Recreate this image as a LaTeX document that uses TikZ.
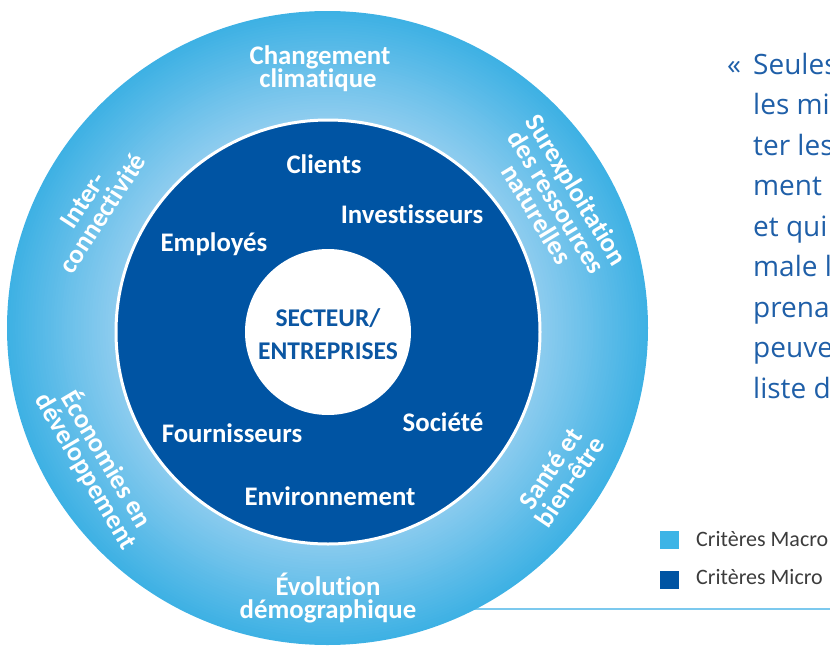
\documentclass[tikz,border=0pt]{standalone}
\usepackage{fontspec}
\setmainfont{Carlito}[Ligatures=NoCommon]
\newfontfamily\quotefont{Open Sans}
\definecolor{macro}{HTML}{3EB1E4}
\definecolor{macrolight}{HTML}{8FCDEF}
\definecolor{micro}{HTML}{0054A3}
\definecolor{centertext}{HTML}{0B56A2}
\definecolor{quoteblue}{HTML}{1F5FA8}
\definecolor{legendgray}{HTML}{3C3C3C}
\definecolor{legendmacro}{HTML}{3DB4E6}
\definecolor{lineblue}{HTML}{7CC9EE}
\tikzset{
  lbl/.style={text=white, font=\bfseries\fontsize{26.8}{23.5}\selectfont, align=center, inner sep=0pt},
  ctr/.style={text=centertext, font=\bfseries\fontsize{25.5}{30}\selectfont, inner sep=0pt, anchor=base},
  quote/.style={text=quoteblue, font=\quotefont\fontsize{28}{40}\selectfont, inner sep=0pt, anchor=base west},
  legtxt/.style={text=legendgray, font=\fontsize{22}{26}\selectfont, inner sep=0pt, anchor=base west},
  legbox/.style={minimum width=19pt, minimum height=18pt, inner sep=0pt, draw=none}
}
\begin{document}
\begin{tikzpicture}[x=1pt,y=-1pt]
\useasboundingbox (0,0) rectangle (830,648);
\clip (0,0) rectangle (830,648);
% baseline rule behind the circle
\coordinate (ls) at (440,608.5);
\coordinate (le) at (830,608.5);
\draw[lineblue, line width=2pt] (ls) -- (le);
% outer ring: radial gradient built from concentric ellipses
\foreach \i in {0,...,40}{
  \pgfmathsetmacro{\sc}{1-\i*0.0085}
  \pgfmathsetmacro{\pc}{100-\i*2.5}
  \fill[macro!\pc!macrolight] (327.5,328) ellipse [x radius=320.5pt*\sc, y radius=317pt*\sc];
}
\fill[micro, draw=white, line width=3pt] (328,332) circle [radius=212pt];
\fill[white] (328,332) circle [radius=83pt];
% macro labels
\node[lbl, anchor=base] (m1a) at (320,64) {Changement};
\node[lbl, anchor=base] (m1b) at (318,87) {climatique};
\node[lbl, rotate=57] (m2) at (93,207) {Inter-\\connectivité};
\node[lbl, rotate=-58.7] (m3) at (557,202) {Surexploitation\\des ressources\\naturelles};
\node[lbl, rotate=-59.5] (m4) at (97,465) {Économies en\\développement};
\node[lbl, rotate=56] (m5) at (560,475) {Santé et\\bien-être};
\node[lbl, anchor=base] (m6a) at (328,595) {Évolution};
\node[lbl, anchor=base] (m6b) at (328,618.6) {démographique};
% micro labels
\node[lbl, anchor=base] (c1) at (324,173.5) {Clients};
\node[lbl, anchor=base] (c2) at (412,223) {Investisseurs};
\node[lbl, anchor=base] (c3) at (214,251) {Employés};
\node[lbl, anchor=base] (c4) at (232,442) {Fournisseurs};
\node[lbl, anchor=base] (c5) at (443,431) {Société};
\node[lbl, anchor=base] (c6) at (330,505) {Environnement};
% centre
\node[ctr] (s1) at (328,326.4) {SECTEUR/};
\node[ctr] (s2) at (328,359.5) {ENTREPRISES};
% quote
\node[quote] (q0) at (727,74) {«};
\node[quote] (q1) at (753,74) {Seules};
\node[quote] (q2) at (753,114.5) {les mi};
\node[quote] (q3) at (753,155) {ter les};
\node[quote] (q4) at (753,195.5) {ment};
\node[quote] (q5) at (753,236) {et qui};
\node[quote] (q6) at (753,276.5) {male l};
\node[quote] (q7) at (753,317) {prena};
\node[quote] (q8) at (753,357.5) {peuve};
\node[quote] (q9) at (753,398) {liste d};
% legend
\node[legbox, fill=legendmacro] (lg1) at (669.5,540) {};
\node[legbox, fill=micro] (lg2) at (669.5,579.5) {};
\node[legtxt] (lt1) at (696,546.7) {Critères Macro};
\node[legtxt] (lt2) at (696,584) {Critères Micro};
\end{tikzpicture}
\end{document}
